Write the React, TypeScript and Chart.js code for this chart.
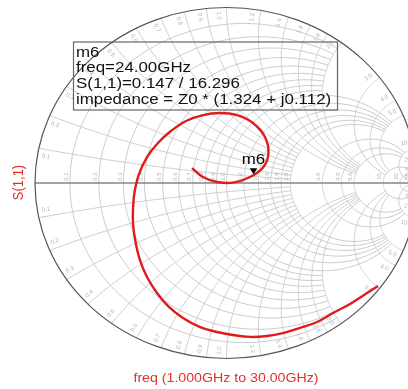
import React, { useEffect, useRef } from 'react';
import { Chart, registerables } from 'chart.js';

Chart.register(...registerables);

// ---- data ----
const xTitle = 'freq (1.000GHz to 30.00GHz)';
const yTitle = 'S(1,1)';

// reflection coefficient of S(1,1), 1 GHz -> 30 GHz (real / imaginary parts)
const curveRe = [
  0.791, 0.734, 0.645, 0.556, 0.473, 0.384, 0.295, 0.211, 0.123, 0.034,
  -0.050, -0.138, -0.227, -0.305, -0.363, -0.415, -0.452, -0.475, -0.488, -0.488,
  -0.480, -0.457, -0.415, -0.358, -0.290, -0.211, -0.123, -0.034, 0.055, 0.138,
  0.201, 0.219, 0.193, 0.123, 0.034, -0.050, -0.123, -0.180,
];
const curveIm = [
  -0.587, -0.627, -0.689, -0.741, -0.792, -0.826, -0.855, -0.872, -0.877, -0.866,
  -0.849, -0.821, -0.769, -0.701, -0.627, -0.536, -0.439, -0.336, -0.234, -0.142,
  -0.051, 0.051, 0.148, 0.228, 0.296, 0.353, 0.387, 0.399, 0.387, 0.342,
  0.262, 0.171, 0.091, 0.034, 0.002, 0.006, 0.034, 0.085,
];

const gridValues = [0.1, 0.2, 0.3, 0.4, 0.5, 0.6, 0.7, 0.8, 0.9, 1.0, 1.2, 1.4, 1.6, 1.8, 2.0, 3.0, 4.0, 5.0, 10, 20, 50];

const markerName = 'm6';
const markerMag = 0.147;
const markerAngleDeg = 16.296;
const markerLines = ['m6', 'freq=24.00GHz', 'S(1,1)=0.147 / 16.296', 'impedance = Z0 * (1.324 + j0.112)'];

// ---- styles ----
const FONT = '"Liberation Sans", Arial, Helvetica, sans-serif';
const STRETCH = 1.09;
const GRID_COLOR = '#cbcbcb';
const LABEL_COLOR = '#b4b4b4';
const CURVE_COLOR = '#e01b1b';
const TITLE_COLOR = '#e2302b';

function zToG(r: number, x: number): [number, number] {
  const den = (r + 1) * (r + 1) + x * x;
  return [(r * r - 1 + x * x) / den, (2 * x) / den];
}

function limitFor(v: number): number {
  if (v < 0.95) return 2;
  if (v < 2.05) return 5;
  if (v < 5.05) return 10;
  if (v < 25) return 50;
  return Infinity;
}

function fmt(v: number): string {
  return v < 10 ? v.toFixed(1) : String(v);
}

function stretchedText(ctx: CanvasRenderingContext2D, text: string, x: number, y: number, size: number, color: string, align: CanvasTextAlign, rot = 0) {
  ctx.save();
  ctx.translate(x, y);
  ctx.scale(STRETCH, 1);
  if (rot) ctx.rotate(rot);
  ctx.font = `${size}px ${FONT}`;
  ctx.fillStyle = color;
  ctx.textAlign = align;
  ctx.textBaseline = 'alphabetic';
  ctx.fillText(text, 0, 0);
  ctx.restore();
}

const smithPlugin = {
  id: 'smithGrid',
  beforeDatasetsDraw(chart: any) {
    const ctx: CanvasRenderingContext2D = chart.ctx;
    const xs = chart.scales.x;
    const ys = chart.scales.y;
    const P = (re: number, im: number): [number, number] => [xs.getPixelForValue(re), ys.getPixelForValue(im)];
    const [cx, cy] = P(0, 0);
    const rx = xs.getPixelForValue(1) - cx;
    const ry = cy - ys.getPixelForValue(1);
    const N = 160;

    ctx.save();
    ctx.lineWidth = 1;
    ctx.strokeStyle = GRID_COLOR;
    for (const v of gridValues) {
      const L = limitFor(v);
      const tMax = isFinite(L) ? Math.atan(L) : Math.PI / 2 - 1e-4;
      // resistance circle
      ctx.beginPath();
      for (let i = 0; i <= N; i++) {
        const t = -tMax + (2 * tMax * i) / N;
        const [gr, gi] = zToG(v, Math.tan(t));
        const [px, py] = P(gr, gi);
        if (i === 0) ctx.moveTo(px, py); else ctx.lineTo(px, py);
      }
      ctx.stroke();
      // reactance arcs
      for (const s of [1, -1]) {
        ctx.beginPath();
        for (let i = 0; i <= N; i++) {
          const u = (tMax * i) / N;
          const [gr, gi] = zToG(Math.tan(u), s * v);
          const [px, py] = P(gr, gi);
          if (i === 0) ctx.moveTo(px, py); else ctx.lineTo(px, py);
        }
        ctx.stroke();
      }
    }

    // labels
    ctx.font = `6px ${FONT}`;
    ctx.fillStyle = LABEL_COLOR;
    ctx.textAlign = 'center';
    ctx.textBaseline = 'middle';
    for (const v of gridValues) {
      const [ax] = P((v - 1) / (v + 1), 0);
      ctx.save();
      ctx.translate(ax - 3.5, cy - 6.5);
      ctx.rotate(-Math.PI / 2);
      ctx.fillText(fmt(v), 0, 0);
      ctx.restore();
      for (const s of [1, -1]) {
        const [gr, gi] = zToG(0, s * v);
        const th = Math.atan2(gi, gr) + s * 0.04;
        const rad = 0.955;
        const lx = cx + rad * Math.cos(th) * rx;
        const ly = cy - rad * Math.sin(th) * ry;
        let ang = Math.atan2(cy - ly, cx - lx);
        if (Math.cos(ang) < 0) ang += Math.PI;
        ctx.save();
        ctx.translate(lx, ly);
        ctx.rotate(ang);
        ctx.fillText(fmt(v), 0, 0);
        ctx.restore();
      }
    }

    // real axis
    ctx.strokeStyle = '#858585';
    ctx.lineWidth = 1.5;
    ctx.beginPath();
    ctx.moveTo(P(-1, 0)[0], cy);
    ctx.lineTo(P(1, 0)[0], cy);
    ctx.stroke();

    // outer rim
    ctx.strokeStyle = '#555555';
    ctx.lineWidth = 1.2;
    ctx.beginPath();
    ctx.ellipse(cx, cy, rx, ry, 0, 0, Math.PI * 2);
    ctx.stroke();
    ctx.restore();
  },
  afterDatasetsDraw(chart: any) {
    const ctx: CanvasRenderingContext2D = chart.ctx;
    const xs = chart.scales.x;
    const ys = chart.scales.y;
    const a = (markerAngleDeg * Math.PI) / 180;
    const mx = xs.getPixelForValue(markerMag * Math.cos(a));
    const my = ys.getPixelForValue(markerMag * Math.sin(a)) - 1.5;

    ctx.save();
    ctx.fillStyle = '#000';
    ctx.beginPath();
    ctx.moveTo(mx, my);
    ctx.lineTo(mx - 3.8, my - 6);
    ctx.lineTo(mx + 3.8, my - 6);
    ctx.closePath();
    ctx.fill();
    stretchedText(ctx, markerName, mx, my - 10, 15.5, '#000', 'center');

    ctx.strokeStyle = '#666';
    ctx.lineWidth = 1.2;
    ctx.strokeRect(73.5, 42, 264, 68);
    markerLines.forEach((line, i) => {
      stretchedText(ctx, line, 76, 56.5 + i * 15.8, 15.5, '#111', 'left');
    });

    stretchedText(ctx, xTitle, 226, 381.5, 13, TITLE_COLOR, 'center');
    stretchedText(ctx, yTitle, 22.5, 182.5, 13, TITLE_COLOR, 'center', -Math.PI / 2);
    ctx.restore();
  },
};

export default function App() {
  const ref = useRef<HTMLCanvasElement | null>(null);
  useEffect(() => {
    document.body.style.margin = '0';
    if (!ref.current) return;
    const points = curveRe.map((re, i) => ({ x: re, y: curveIm[i] }));
    const chart = new Chart(ref.current, {
      type: 'scatter',
      data: {
        datasets: [
          {
            data: points,
            showLine: true,
            borderColor: CURVE_COLOR,
            backgroundColor: CURVE_COLOR,
            borderWidth: 2.4,
            pointRadius: 0,
            tension: 0.4,
            fill: false,
          },
        ],
      },
      options: {
        responsive: false,
        animation: false,
        events: [],
        layout: { padding: { left: 35, right: 1, top: 7.5, bottom: 30.5 } },
        scales: {
          x: { type: 'linear', min: -1, max: 1, display: false },
          y: { type: 'linear', min: -1, max: 1, display: false },
        },
        plugins: { legend: { display: false }, tooltip: { enabled: false }, title: { display: false } },
      },
      plugins: [smithPlugin],
    });
    return () => chart.destroy();
  }, []);
  return (
    <div style={{ position: 'absolute', left: 0, top: 0, width: 408, height: 389, overflow: 'hidden', background: '#fff' }}>
      <canvas ref={ref} width={419} height={389} style={{ display: 'block' }} />
    </div>
  );
}
